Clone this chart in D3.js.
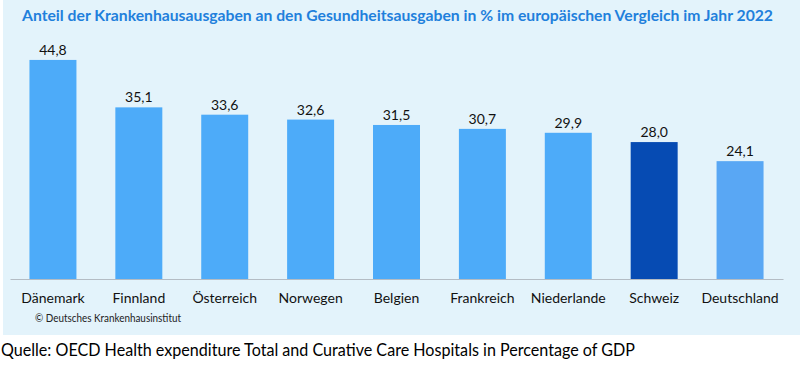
<!DOCTYPE html>
<html>
<head>
<meta charset="utf-8">
<script src="https://cdn.jsdelivr.net/npm/d3@7.9.0/dist/d3.min.js"></script>
<style>
  body { margin: 0; background: #fff; }
  svg { display: block; font-family: Lato, "Open Sans", sans-serif; }
</style>
</head>
<body>
<div id="chart"></div>
<script>
const countries = ["Dänemark", "Finnland", "Österreich", "Norwegen", "Belgien", "Frankreich", "Niederlande", "Schweiz", "Deutschland"];
const shares = [44.8, 35.1, 33.6, 32.6, 31.5, 30.7, 29.9, 28.0, 24.1];
const barColors = ["#4dabf9", "#4dabf9", "#4dabf9", "#4dabf9", "#4dabf9", "#4dabf9", "#4dabf9", "#064bb3", "#59a7f4"];

const width = 800;
const height = 370;

const data = countries.map((c, i) => ({ country: c, value: shares[i], color: barColors[i] }));

const svg = d3.select("#chart").append("svg")
  .attr("width", width)
  .attr("height", height);

// light blue panel
svg.append("rect")
  .attr("x", 3).attr("y", 0)
  .attr("width", width - 3).attr("height", 335)
  .attr("fill", "#e3f3fb");

svg.append("text")
  .attr("x", 22).attr("y", 21)
  .attr("font-size", 15.5).attr("font-weight", "bold")
  .attr("fill", "#1f80dc")
  .attr("textLength", 751).attr("lengthAdjust", "spacingAndGlyphs")
  .text("Anteil der Krankenhausausgaben an den Gesundheitsausgaben in % im europäischen Vergleich im Jahr 2022");

const x = d3.scaleBand()
  .domain(countries)
  .range([10, 783])
  .paddingInner(0.453)
  .paddingOuter(0.2265);

const y = d3.scaleLinear()
  .domain([0, 50])
  .range([279, 279 - 50 * 4.89]);

svg.append("g")
  .selectAll("rect")
  .data(data)
  .join("rect")
  .attr("x", (d) => x(d.country))
  .attr("y", (d) => y(d.value))
  .attr("width", x.bandwidth())
  .attr("height", (d) => y(0) - y(d.value))
  .attr("fill", (d) => d.color);

svg.append("g")
  .selectAll("text")
  .data(data)
  .join("text")
  .attr("x", (d) => x(d.country) + x.bandwidth() / 2)
  .attr("y", (d) => y(d.value) - 5)
  .attr("text-anchor", "middle")
  .attr("font-size", 14)
  .attr("fill", "#111")
  .text((d) => d3.format(".1f")(d.value).replace(".", ","));

// category axis
const xAxis = svg.append("g")
  .attr("transform", `translate(0, ${y(0)})`)
  .call(d3.axisBottom(x).tickSize(0).tickPadding(14));
xAxis.select(".domain").attr("stroke", "#b4bcc4").attr("stroke-width", 1.2);
xAxis.selectAll("text")
  .attr("font-size", 14)
  .attr("font-family", "Lato, sans-serif")
  .attr("fill", "#111");

svg.append("text")
  .attr("x", 35).attr("y", 322)
  .attr("font-size", 10.5)
  .attr("fill", "#222")
  .attr("textLength", 146).attr("lengthAdjust", "spacingAndGlyphs")
  .text("© Deutsches Krankenhausinstitut");

svg.append("text")
  .attr("x", 1).attr("y", 356)
  .attr("font-size", 17)
  .attr("fill", "#000")
  .attr("textLength", 634).attr("lengthAdjust", "spacingAndGlyphs")
  .text("Quelle: OECD Health expenditure Total and Curative Care Hospitals in Percentage of GDP");
</script>
</body>
</html>
